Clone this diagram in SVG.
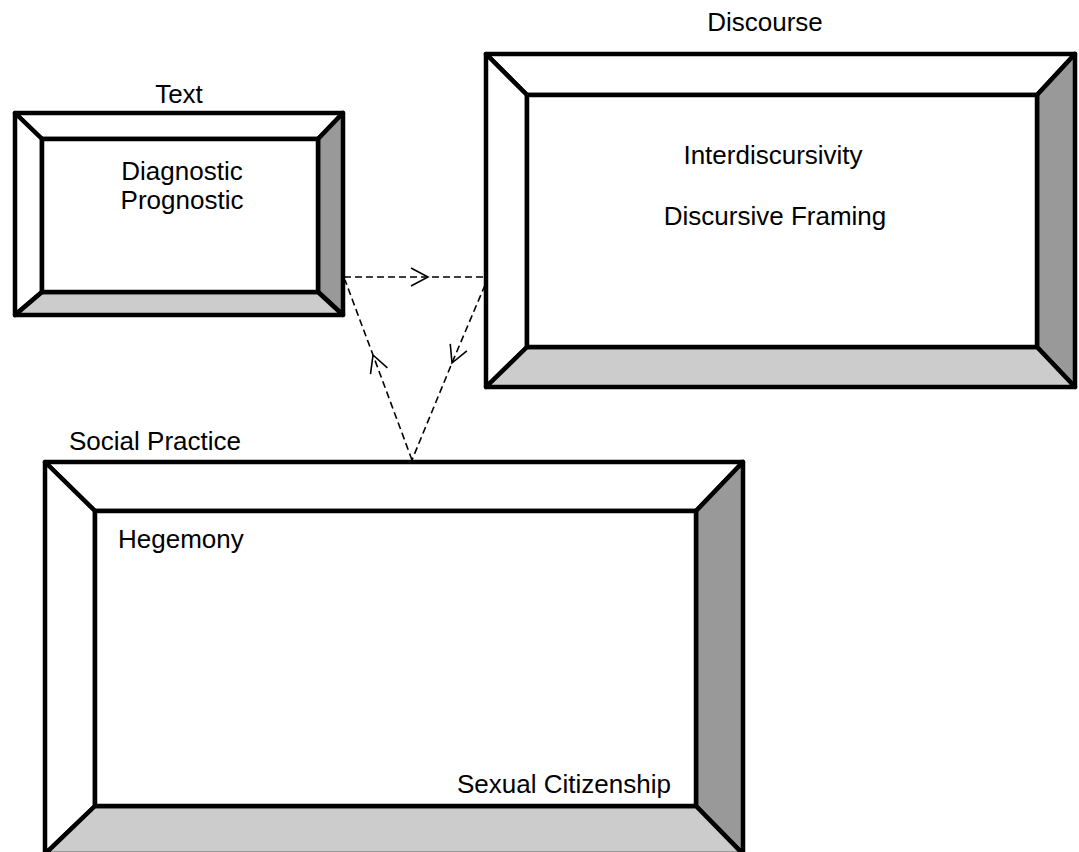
<svg xmlns="http://www.w3.org/2000/svg" width="1079" height="852" viewBox="0 0 1079 852">
<style>
.f{stroke:#000;stroke-width:4.5;stroke-linejoin:round}
.w{fill:#fff}.r{fill:#999}.b{fill:#ccc}
.t{font-family:"Liberation Sans",Arial,sans-serif;font-size:26px;fill:#000}
.c{fill:none;stroke:#000;stroke-width:1.6;stroke-dasharray:7 4}
</style>
<defs>
<marker id="ah" markerUnits="userSpaceOnUse" viewBox="-20 -11 22 22" markerWidth="22" markerHeight="22" refX="0" refY="0" orient="auto" overflow="visible">
<path d="M-17,-9 L0,0 L-17,9" fill="none" stroke="#000" stroke-width="1.6"/>
</marker>
</defs>
<rect width="1079" height="852" fill="#fff"/>
<g id="text-node">
<polygon class="f w" points="15,113 343,113 318,139 42,139"/>
<polygon class="f w" points="15,113 42,139 42,292 15,315"/>
<polygon class="f r" points="343,113 343,315 318,292 318,139"/>
<polygon class="f b" points="15,315 42,292 318,292 343,315"/>
<rect class="f w" x="42" y="139" width="276" height="153"/>
<text class="t" x="179" y="103" text-anchor="middle">Text</text>
<text class="t" x="182" y="180" text-anchor="middle">Diagnostic</text>
<text class="t" x="182" y="209" text-anchor="middle">Prognostic</text>
</g>
<g id="discourse-node">
<polygon class="f w" points="486,54 1075,54 1037,95 527,95"/>
<polygon class="f w" points="486,54 527,95 527,347 486,387"/>
<polygon class="f r" points="1075,54 1075,387 1037,347 1037,95"/>
<polygon class="f b" points="486,387 527,347 1037,347 1075,387"/>
<rect class="f w" x="527" y="95" width="510" height="252"/>
<text class="t" x="765" y="31" text-anchor="middle">Discourse</text>
<text class="t" x="773" y="164" text-anchor="middle">Interdiscursivity</text>
<text class="t" x="775" y="225" text-anchor="middle">Discursive Framing</text>
</g>
<g id="social-practice-node">
<polygon class="f w" points="45,462 743,462 696,511 95,511"/>
<polygon class="f w" points="45,462 95,511 95,806 45,854"/>
<polygon class="f r" points="743,462 743,854 696,806 696,511"/>
<polygon class="f b" points="45,854 95,806 696,806 743,854"/>
<rect class="f w" x="95" y="511" width="601" height="295"/>
<text class="t" x="69" y="450">Social Practice</text>
<text class="t" x="118" y="548">Hegemony</text>
<text class="t" x="457" y="793">Sexual Citizenship</text>
</g>
<g id="connectors">
<path class="c" d="M344,277 L428,277 L485,277" marker-mid="url(#ah)"/>
<path class="c" d="M485,285 L452,363 L412,460" marker-mid="url(#ah)"/>
<path class="c" d="M412,460 L373,355 L345,280" marker-mid="url(#ah)"/>
</g>
</svg>
